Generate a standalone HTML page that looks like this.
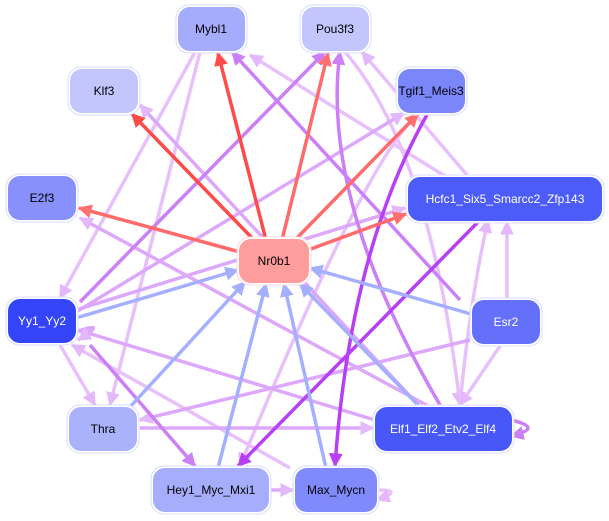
<!DOCTYPE html>
<html><head><meta charset="utf-8"><style>
html,body{margin:0;padding:0;background:#fff;width:609px;height:521px;overflow:hidden}
svg{display:block}
text{font-family:"Liberation Sans",sans-serif;font-size:12px;text-anchor:middle;dominant-baseline:central}
</style></head><body>
<svg width="609" height="521" viewBox="0 0 609 521" xmlns="http://www.w3.org/2000/svg">
<defs>
<marker id="r" viewBox="0 0 10 10" refX="9" refY="5" markerWidth="4" markerHeight="4" orient="auto"><path d="M0,0L10,5L0,10z" fill="#ff4a4a"/></marker>
<marker id="r2" viewBox="0 0 10 10" refX="9" refY="5" markerWidth="4" markerHeight="4" orient="auto"><path d="M0,0L10,5L0,10z" fill="#ff7070"/></marker>
<marker id="b" viewBox="0 0 10 10" refX="9" refY="5" markerWidth="4" markerHeight="4" orient="auto"><path d="M0,0L10,5L0,10z" fill="#a4b0ff"/></marker>
<marker id="p1" viewBox="0 0 10 10" refX="9" refY="5" markerWidth="4" markerHeight="4" orient="auto"><path d="M0,0L10,5L0,10z" fill="#b840f4"/></marker>
<marker id="p2" viewBox="0 0 10 10" refX="9" refY="5" markerWidth="4" markerHeight="4" orient="auto"><path d="M0,0L10,5L0,10z" fill="#cc80f8"/></marker>
<marker id="p3" viewBox="0 0 10 10" refX="9" refY="5" markerWidth="4" markerHeight="4" orient="auto"><path d="M0,0L10,5L0,10z" fill="#e4b8fc"/></marker>
</defs>
<g fill="none" stroke-width="3.5">
<!-- light purple edges -->
<g stroke="#e8c0fc" marker-end="url(#p3)">
<path d="M195,52 L60,298"/>
<path d="M200,52 L110,405"/>
<path d="M420,113 Q370,150 240,466"/>
<path d="M345,52 Q430,150 460,405"/>
<path d="M460,405 Q470,300 488,220"/>
<path d="M507,299 L507,222"/>
<path d="M500,346 L460,405"/>
<path d="M490,202 L362,52"/>
<path d="M490,204 L250,55"/>
<path d="M290,468 L72,345"/>
<path d="M60,345 L95,405"/>
<path d="M377,490 Q405,490 377,500"/>
</g>
<g stroke="#dda8fb" marker-end="url(#p3)">
<path d="M430,407 L80,218"/>
<path d="M420,407 L140,105"/>
<path d="M140,428 L373,428"/>
<path d="M470,340 L140,420"/>
<path d="M375,420 L78,330"/>
<path d="M76,332 Q110,320 78,340"/>
<path d="M270,490 L293,490"/>
<path d="M76,312 L404,113"/>
<path d="M76,310 L405,208"/>
</g>
<g stroke="#cc80f8" marker-end="url(#p2)">
<path d="M80,302 L325,52"/>
<path d="M460,300 L232,52"/>
<path d="M440,405 Q320,200 340,52"/>
<path d="M90,345 L195,466"/>
<path d="M511,420 Q545,428 511,436"/>
</g>
<g stroke="#b840f4" marker-end="url(#p1)">
<path d="M428,113 Q350,250 335,466"/>
<path d="M480,220 L238,466"/>
</g>
<!-- blue edges into Nr0b1 -->
<g stroke="#a4b0ff" marker-end="url(#b)">
<path d="M76,318 L238,270"/>
<path d="M130,407 L245,282"/>
<path d="M218,468 L266,284"/>
<path d="M326,468 L284,284"/>
<path d="M418,405 L300,284"/>
<path d="M471,314 L310,268"/>
</g>
<!-- red edges from Nr0b1 -->
<g stroke="#ff4a4a" marker-end="url(#r)">
<path d="M266,240 L218,53"/>
<path d="M254,240 L132,114"/>
</g>
<g stroke="#ff6a6a" marker-end="url(#r2)">
<path d="M282,240 L328,53"/>
<path d="M295,240 L418,114"/>
<path d="M240,252 L79,208"/>
<path d="M308,250 L406,214"/>
</g>
</g>
<!-- nodes -->
<g stroke="#d8dcff" stroke-width="1">
<rect x="176" y="5" width="71" height="48" rx="13" fill="#fff"/>
<rect x="300" y="5" width="71" height="48" rx="13" fill="#fff"/>
<rect x="68" y="67" width="72" height="48" rx="13" fill="#fff"/>
<rect x="396" y="67" width="71" height="48" rx="13" fill="#fff"/>
<rect x="6" y="174" width="72" height="48" rx="13" fill="#fff"/>
<rect x="406" y="175" width="198" height="48" rx="13" fill="#fff"/>
<rect x="6" y="297" width="72" height="48" rx="13" fill="#fff"/>
<rect x="470" y="298" width="72" height="48" rx="13" fill="#fff"/>
<rect x="67" y="405" width="72" height="48" rx="13" fill="#fff"/>
<rect x="373" y="405" width="141" height="48" rx="13" fill="#fff"/>
<rect x="151" y="466" width="120" height="48" rx="13" fill="#fff"/>
<rect x="293" y="466" width="86" height="48" rx="13" fill="#fff"/>
<rect x="237" y="237" width="74" height="48" rx="13" fill="#fff" stroke="#ffd8d8"/>
</g>
<g>
<rect x="178" y="7" width="67" height="44" rx="12" fill="#a6acfc"/>
<rect x="302" y="7" width="67" height="44" rx="12" fill="#c2c6fd"/>
<rect x="70" y="69" width="68" height="44" rx="12" fill="#c2c6fd"/>
<rect x="398" y="69" width="67" height="44" rx="12" fill="#7c86fb"/>
<rect x="8" y="176" width="68" height="44" rx="12" fill="#8890fb"/>
<rect x="408" y="177" width="194" height="44" rx="12" fill="#4c5cf8"/>
<rect x="8" y="299" width="68" height="44" rx="12" fill="#3444f8"/>
<rect x="472" y="300" width="68" height="44" rx="12" fill="#6470f9"/>
<rect x="69" y="407" width="68" height="44" rx="12" fill="#aab2fc"/>
<rect x="375" y="407" width="137" height="44" rx="12" fill="#4858f8"/>
<rect x="153" y="468" width="116" height="44" rx="12" fill="#a6aefc"/>
<rect x="295" y="468" width="82" height="44" rx="12" fill="#808afb"/>
<rect x="239" y="239" width="70" height="44" rx="12" fill="#ff9c9c"/>
</g>
<text x="211" y="29">Mybl1</text>
<text x="335" y="29">Pou3f3</text>
<text x="104" y="91">Klf3</text>
<text x="431" y="91">Tgif1_Meis3</text>
<text x="42" y="198">E2f3</text>
<text x="505" y="199" fill="#fff">Hcfc1_Six5_Smarcc2_Zfp143</text>
<text x="42" y="321" fill="#fff">Yy1_Yy2</text>
<text x="506" y="322" fill="#fff">Esr2</text>
<text x="103" y="429">Thra</text>
<text x="443" y="429" fill="#fff">Elf1_Elf2_Etv2_Elf4</text>
<text x="211" y="490">Hey1_Myc_Mxi1</text>
<text x="336" y="490">Max_Mycn</text>
<text x="274" y="261">Nr0b1</text>
</svg>
</body></html>
